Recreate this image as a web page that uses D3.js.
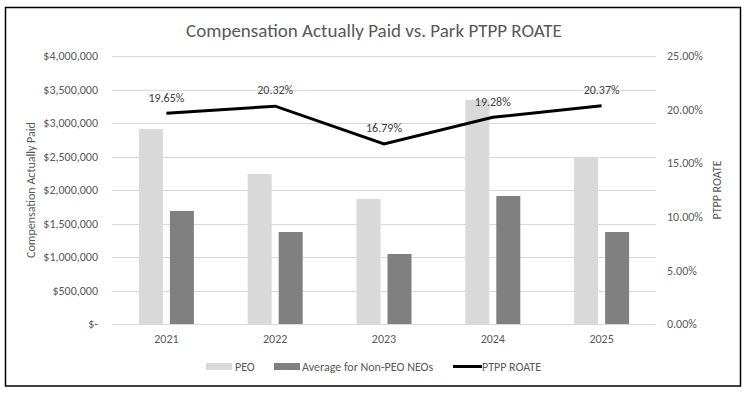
<!DOCTYPE html>
<html>
<head>
<meta charset="utf-8">
<script src="https://cdn.jsdelivr.net/npm/d3@7"></script>
<style>
  body { margin: 0; background: #fff; }
  svg text { font-family: Carlito, Calibri, "Open Sans", sans-serif; fill: #595959; }
</style>
</head>
<body>
<div id="chart"></div>
<script>
// chart data
const years = ["2021", "2022", "2023", "2024", "2025"];
const peo = [2910000, 2240000, 1866000, 3343000, 2488000];
const nonPeo = [1687000, 1373000, 1045000, 1910000, 1373000];
const roate = [19.65, 20.32, 16.79, 19.28, 20.37];
const leftTicks = [0, 500000, 1000000, 1500000, 2000000, 2500000, 3000000, 3500000, 4000000];
const rightTicks = [0, 5, 10, 15, 20, 25];
const seriesNames = ["PEO", "Average for Non-PEO NEOs"];
const seriesColors = ["#d9d9d9", "#808080"];

const width = 748, height = 395;
const margin = { top: 56, right: 92, bottom: 71, left: 112 };

const svg = d3.select("#chart").append("svg")
    .attr("width", width)
    .attr("height", height);

// outer frame
svg.append("rect")
    .attr("x", 5.5).attr("y", 7.5)
    .attr("width", 735).attr("height", 378.5)
    .attr("fill", "#fff")
    .attr("stroke", "#000")
    .attr("stroke-width", 1.5);

const x0 = d3.scaleBand()
    .domain(years)
    .range([margin.left, width - margin.right]);

const x1 = d3.scaleBand()
    .domain(seriesNames)
    .range([0, 55])
    .paddingInner(0.226);

const yLeft = d3.scaleLinear()
    .domain([0, 4000000])
    .range([height - margin.bottom, margin.top]);

const yRight = d3.scaleLinear()
    .domain([0, 25])
    .range([height - margin.bottom, margin.top]);

// gridlines
svg.append("g")
    .selectAll("line")
    .data(leftTicks)
    .enter()
    .append("line")
    .attr("x1", margin.left)
    .attr("x2", width - margin.right)
    .attr("y1", d => Math.round(yLeft(d)) + 0.5)
    .attr("y2", d => Math.round(yLeft(d)) + 0.5)
    .attr("stroke", "#d9d9d9")
    .attr("stroke-width", 1);

// left axis labels
const fmtMoney = d => d === 0 ? "$-" : "$" + d3.format(",")(d);
svg.append("g")
    .selectAll("text")
    .data(leftTicks)
    .enter()
    .append("text")
    .attr("x", 98)
    .attr("y", d => yLeft(d))
    .attr("dy", "0.35em")
    .attr("text-anchor", "end")
    .attr("font-size", "12px")
    .text(fmtMoney);

// right axis labels
svg.append("g")
    .selectAll("text")
    .data(rightTicks)
    .enter()
    .append("text")
    .attr("x", 667)
    .attr("y", d => yRight(d))
    .attr("dy", "0.35em")
    .attr("text-anchor", "start")
    .attr("font-size", "12px")
    .text(d => d.toFixed(2) + "%");

// bars
const groups = svg.append("g")
    .selectAll("g")
    .data(years)
    .enter()
    .append("g")
    .attr("transform", d => `translate(${x0(d) + x0.bandwidth() / 2 - 27.5},0)`);

groups.selectAll("rect")
    .data((d, i) => [
        { key: seriesNames[0], value: peo[i] },
        { key: seriesNames[1], value: nonPeo[i] }
    ])
    .enter()
    .append("rect")
    .attr("x", d => x1(d.key))
    .attr("width", x1.bandwidth())
    .attr("y", d => yLeft(d.value))
    .attr("height", d => yLeft(0) - yLeft(d.value))
    .attr("fill", (d, i) => seriesColors[i]);

// category labels
svg.append("g")
    .selectAll("text")
    .data(years)
    .enter()
    .append("text")
    .attr("x", d => x0(d) + x0.bandwidth() / 2)
    .attr("y", 339)
    .attr("dy", "0.35em")
    .attr("text-anchor", "middle")
    .attr("font-size", "12px")
    .text(d => d);

// ROATE line
const line = d3.line()
    .x((d, i) => x0(years[i]) + x0.bandwidth() / 2)
    .y(d => yRight(d));

svg.append("path")
    .datum(roate)
    .attr("d", line)
    .attr("fill", "none")
    .attr("stroke", "#000")
    .attr("stroke-width", 3);

// data labels
svg.append("g")
    .selectAll("text")
    .data(roate)
    .enter()
    .append("text")
    .attr("x", (d, i) => x0(years[i]) + x0.bandwidth() / 2)
    .attr("y", d => yRight(d) - 16)
    .attr("dy", "0.35em")
    .attr("text-anchor", "middle")
    .attr("font-size", "12px")
    .attr("fill", "#404040")
    .style("fill", "#404040")
    .text(d => d.toFixed(2) + "%");

// title
svg.append("text")
    .attr("x", 374)
    .attr("y", 30)
    .attr("dy", "0.35em")
    .attr("text-anchor", "middle")
    .attr("font-size", "19px")
    .text("Compensation Actually Paid vs. Park PTPP ROATE");

// axis titles
svg.append("text")
    .attr("transform", "translate(31,190) rotate(-90)")
    .attr("dy", "0.35em")
    .attr("text-anchor", "middle")
    .attr("font-size", "12px")
    .text("Compensation Actually Paid");

svg.append("text")
    .attr("transform", "translate(717,190) rotate(-90)")
    .attr("dy", "0.35em")
    .attr("text-anchor", "middle")
    .attr("font-size", "12px")
    .text("PTPP ROATE");

// legend
const legendY = 366.5;
const legend = svg.append("g");
legend.append("rect").attr("x", 206).attr("y", legendY - 3.5).attr("width", 26).attr("height", 7).attr("fill", seriesColors[0]);
legend.append("text").attr("x", 235).attr("y", legendY).attr("dy", "0.35em").attr("font-size", "12px").text(seriesNames[0]);
legend.append("rect").attr("x", 274).attr("y", legendY - 3.5).attr("width", 26).attr("height", 7).attr("fill", seriesColors[1]);
legend.append("text").attr("x", 302).attr("y", legendY).attr("dy", "0.35em").attr("font-size", "12px").text(seriesNames[1]);
legend.append("line").attr("x1", 453).attr("x2", 482).attr("y1", legendY).attr("y2", legendY).attr("stroke", "#000").attr("stroke-width", 3);
legend.append("text").attr("x", 482).attr("y", legendY).attr("dy", "0.35em").attr("font-size", "12px").text("PTPP ROATE");
</script>
</body>
</html>
